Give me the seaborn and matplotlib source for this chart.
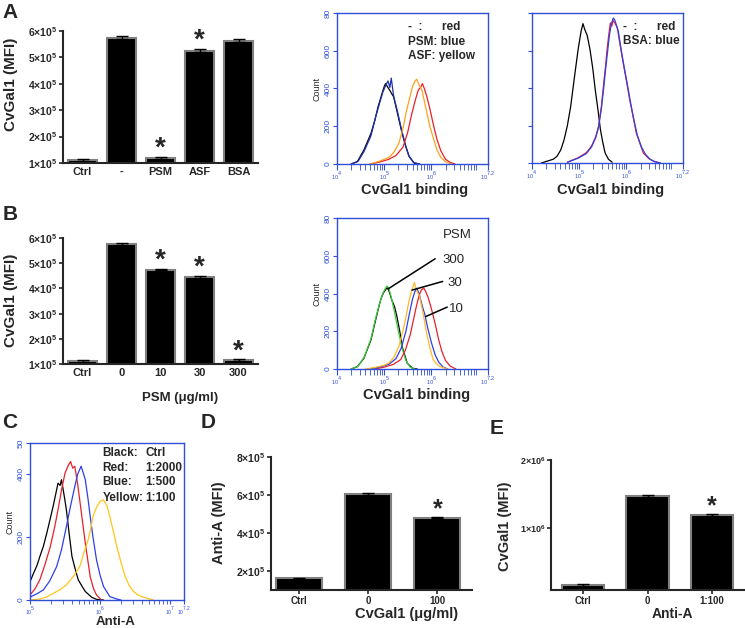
import numpy as np
import pandas as pd
import seaborn as sns
import matplotlib
matplotlib.use('Agg')
import matplotlib.pyplot as plt
from matplotlib.ticker import FixedLocator, NullFormatter

######################################## data ########################################
# panel A, bar chart
a_cats = ['Ctrl', '-', 'PSM', 'ASF', 'BSA']
a_vals = [1.12e5, 5.75e5, 1.18e5, 5.26e5, 5.63e5]
a_errs = [3e3, 7e3, 3e3, 7e3, 6e3]
a_star = [2, 3]

# panel B, bar chart
b_cats = ['Ctrl', '0', '10', '30', '300']
b_vals = [1.12e5, 5.77e5, 4.75e5, 4.45e5, 1.15e5]
b_errs = [3e3, 3e3, 3e3, 3e3, 3e3]
b_star = [2, 3, 4]

# panel D, bar chart
d_cats = ['Ctrl', '0', '100']
d_vals = [1.62e5, 6.05e5, 4.80e5]
d_errs = [3e3, 3e3, 3e3]
d_star = [2]

# panel E, bar chart
e_cats = ['Ctrl', '0', '1:100']
e_vals = [1.75e5, 1.47e6, 1.19e6]
e_errs = [1.2e4, 1.5e4, 1.5e4]
e_star = [2]

# histograms: x = log10(fluorescence), y = count
a1_ctrl_x = [4.30, 4.43, 4.57, 4.72, 4.80, 4.87, 4.95, 5.00, 5.03, 5.08, 5.12, 5.16, 5.20, 5.28, 5.38, 5.46, 5.53, 5.64, 5.75]
a1_ctrl_y = [0, 12, 74, 162, 230, 303, 370, 410, 426, 405, 390, 372, 356, 270, 162, 90, 39, 4, 0]
a1_psm_x = [4.30, 4.45, 4.58, 4.72, 4.82, 4.90, 4.97, 5.03, 5.08, 5.12, 5.15, 5.20, 5.28, 5.36, 5.44, 5.52, 5.62, 5.75]
a1_psm_y = [0, 15, 70, 150, 250, 320, 380, 415, 440, 405, 455, 360, 280, 190, 110, 45, 8, 0]
a1_neg_x = [4.70, 4.90, 5.10, 5.25, 5.40, 5.50, 5.58, 5.65, 5.72, 5.78, 5.81, 5.85, 5.90, 5.97, 6.05, 6.12, 6.20, 6.30, 6.40, 6.50]
a1_neg_y = [0, 10, 25, 45, 90, 170, 260, 330, 390, 410, 426, 400, 360, 290, 200, 130, 70, 25, 8, 0]
a1_asf_x = [4.70, 4.90, 5.10, 5.20, 5.31, 5.40, 5.46, 5.53, 5.60, 5.65, 5.69, 5.74, 5.80, 5.88, 5.97, 6.05, 6.12, 6.20, 6.30, 6.42]
a1_asf_y = [0, 15, 35, 60, 109, 190, 268, 340, 409, 440, 449, 420, 391, 300, 197, 130, 74, 35, 12, 0]

a2_ctrl_x = [4.20, 4.31, 4.45, 4.53, 4.61, 4.68, 4.75, 4.82, 4.88, 4.93, 4.98, 5.04, 5.08, 5.12, 5.17, 5.23, 5.29, 5.34, 5.40, 5.45, 5.50, 5.55, 5.62, 5.70]
a2_ctrl_y = [0, 9, 20, 36, 70, 124, 200, 302, 420, 516, 610, 702, 743, 711, 680, 604, 500, 391, 280, 178, 110, 53, 20, 4]
a2_neg_x = [4.75, 4.97, 5.15, 5.26, 5.35, 5.41, 5.47, 5.52, 5.56, 5.59, 5.63, 5.66, 5.69, 5.72, 5.76, 5.81, 5.86, 5.92, 6.00, 6.07, 6.14, 6.21, 6.30, 6.36, 6.47, 6.58, 6.72]
a2_neg_y = [4, 27, 55, 89, 140, 196, 300, 427, 520, 604, 690, 747, 730, 760, 745, 720, 640, 551, 440, 338, 250, 160, 95, 53, 25, 9, 0]
a2_bsa_x = [4.75, 4.97, 5.15, 5.26, 5.35, 5.41, 5.47, 5.52, 5.56, 5.60, 5.64, 5.68, 5.72, 5.75, 5.79, 5.83, 5.88, 5.94, 6.02, 6.09, 6.16, 6.23, 6.32, 6.40, 6.50, 6.60, 6.72]
a2_bsa_y = [4, 25, 50, 85, 135, 190, 290, 400, 500, 590, 680, 740, 773, 765, 735, 700, 620, 530, 420, 320, 230, 150, 85, 48, 20, 7, 0]

b_ctrl_x = [4.30, 4.43, 4.57, 4.72, 4.80, 4.87, 4.93, 4.98, 5.03, 5.07, 5.12, 5.16, 5.22, 5.27, 5.33, 5.38, 5.44, 5.49, 5.60, 5.70]
b_ctrl_y = [0, 12, 57, 154, 240, 313, 370, 402, 420, 434, 400, 366, 330, 278, 200, 119, 70, 30, 4, 0]
b_300_x = [4.30, 4.45, 4.58, 4.72, 4.82, 4.90, 4.97, 5.02, 5.06, 5.10, 5.15, 5.22, 5.30, 5.38, 5.46, 5.55, 5.65]
b_300_y = [0, 15, 65, 160, 270, 345, 400, 425, 440, 425, 380, 300, 200, 110, 45, 10, 0]
b_30_x = [4.60, 4.80, 5.00, 5.09, 5.20, 5.31, 5.42, 5.48, 5.53, 5.59, 5.64, 5.68, 5.75, 5.82, 5.90, 5.97, 6.04, 6.12, 6.19, 6.34]
b_30_y = [0, 8, 20, 30, 60, 119, 225, 300, 366, 420, 458, 420, 384, 300, 189, 110, 48, 25, 12, 0]
b_10_x = [4.70, 4.90, 5.10, 5.25, 5.36, 5.46, 5.54, 5.60, 5.65, 5.69, 5.74, 5.80, 5.86, 5.92, 6.00, 6.08, 6.16, 6.25, 6.35]
b_10_y = [0, 10, 25, 55, 110, 200, 300, 370, 410, 428, 400, 340, 290, 220, 140, 75, 35, 10, 0]
b_0_x = [4.80, 5.00, 5.20, 5.35, 5.45, 5.55, 5.62, 5.68, 5.74, 5.79, 5.84, 5.88, 5.93, 6.00, 6.08, 6.15, 6.22, 6.30, 6.40, 6.52]
b_0_y = [0, 10, 25, 50, 100, 180, 260, 330, 390, 420, 428, 410, 380, 320, 240, 160, 95, 45, 15, 0]

c_ctrl_x = [5.00, 5.05, 5.10, 5.14, 5.19, 5.24, 5.29, 5.33, 5.37, 5.40, 5.43, 5.45, 5.49, 5.52, 5.56, 5.60, 5.65, 5.69, 5.74, 5.79, 5.88, 5.95, 6.05]
c_ctrl_y = [58, 85, 110, 138, 170, 213, 260, 298, 340, 372, 365, 383, 330, 287, 210, 138, 95, 64, 45, 27, 9, 2, 0]
c_2000_x = [5.00, 5.07, 5.14, 5.21, 5.29, 5.35, 5.40, 5.45, 5.50, 5.55, 5.58, 5.61, 5.64, 5.68, 5.71, 5.75, 5.79, 5.83, 5.86, 5.91, 5.95, 6.02]
c_2000_y = [16, 35, 64, 110, 170, 230, 287, 350, 404, 430, 441, 420, 426, 370, 319, 250, 181, 120, 74, 35, 16, 0]
c_500_x = [5.00, 5.10, 5.19, 5.28, 5.38, 5.45, 5.52, 5.58, 5.64, 5.68, 5.73, 5.76, 5.79, 5.83, 5.86, 5.90, 5.95, 6.00, 6.05, 6.14, 6.24, 6.30]
c_500_y = [9, 20, 32, 60, 106, 160, 234, 300, 362, 400, 426, 405, 383, 320, 266, 200, 128, 80, 43, 11, 3, 0]
c_100_x = [5.00, 5.14, 5.24, 5.33, 5.43, 5.52, 5.62, 5.71, 5.77, 5.83, 5.87, 5.90, 5.95, 6.00, 6.05, 6.10, 6.14, 6.19, 6.24, 6.30, 6.36, 6.42, 6.48, 6.55, 6.62, 6.76]
c_100_y = [0, 3, 10, 21, 33, 48, 75, 106, 150, 191, 230, 266, 295, 314, 319, 300, 266, 220, 170, 120, 74, 45, 27, 15, 9, 0]

######################################## style ########################################
sns.set_style('ticks')
plt.rcParams['font.family'] = ['Liberation Sans', 'DejaVu Sans']
plt.rcParams['mathtext.fontset'] = 'custom'
plt.rcParams['mathtext.rm'] = 'Liberation Sans'
plt.rcParams['mathtext.it'] = 'Liberation Sans:italic'
plt.rcParams['mathtext.bf'] = 'Liberation Sans:bold'

W, H = 745, 628
BLUE = '#2f4fd8'

fig = plt.figure(figsize=(W / 100, H / 100), dpi=100)


def px_axes(l, t, r, b):
	return fig.add_axes([l / W, 1 - b / H, (r - l) / W, (b - t) / H])


def sci(v):
	e = int(np.floor(np.log10(v)))
	return r'$\mathbf{%d{\times}10^{%d}}$' % (round(v / 10 ** e), e)


def bar_panel(ax, cats, vals, errs, stars, ylim, yticks, width, xlim, tfs, xfs, xticks_on, sfs):
	sns.barplot(x=cats, y=vals, order=cats, color='black', saturation=1, edgecolor='#808080',
		linewidth=1.5, width=width, errorbar=None, ax=ax)
	ax.errorbar(np.arange(len(cats)), vals, yerr=errs, fmt='none', ecolor='black', elinewidth=1, capsize=4)
	for i in stars:
		ax.annotate('*', (i, vals[i] + errs[i]), xytext=(0, 6), textcoords='offset points',
			ha='center', va='center', fontsize=sfs, fontweight='bold')
	ax.set_ylim(*ylim)
	ax.set_xlim(*xlim)
	ax.set_yticks(yticks)
	ax.set_yticklabels([sci(v) for v in yticks], fontsize=tfs)
	for t in ax.get_xticklabels():
		t.set_fontsize(xfs)
		t.set_fontweight('bold')
	ax.tick_params(axis='y', length=3, width=1.2, pad=1)
	ax.tick_params(axis='x', length=3 if xticks_on else 0, width=1.2, pad=1 if xticks_on else 3)
	ax.set_xlabel('')
	ax.set_ylabel('')
	for s in ['top', 'right']:
		ax.spines[s].set_visible(False)
	for s in ['left', 'bottom']:
		ax.spines[s].set_linewidth(1.5)


def hist_panel(ax, curves, xmin, xmax, ymax, yticks, ylabels, xticks, xlabels, count=True, xfs=5.5, tl=4):
	for x, y, c in curves:
		sns.lineplot(x=x, y=y, color=c, linewidth=0.9, sort=False, ax=ax)
	ax.set_xlim(xmin, xmax)
	ax.set_ylim(0, ymax)
	minors = [np.log10(k * 10 ** d) for d in range(int(xmin), int(xmax) + 1) for k in range(2, 10)]
	minors = [m for m in minors if xmin < m < xmax]
	ax.xaxis.set_minor_locator(FixedLocator(minors))
	ax.xaxis.set_minor_formatter(NullFormatter())
	ax.set_xticks(xticks)
	ax.set_xticklabels(xlabels, fontsize=xfs, color=BLUE)
	ax.set_yticks(yticks)
	ax.set_yticklabels(ylabels, fontsize=6, color=BLUE, rotation=90, va='center')
	ax.tick_params(axis='x', which='major', length=tl, color=BLUE, pad=0.3)
	ax.tick_params(axis='x', which='minor', length=tl, color=BLUE)
	ax.tick_params(axis='y', length=3, color=BLUE, pad=1)
	for s in ax.spines.values():
		s.set_color(BLUE)
		s.set_linewidth(1.0)
	ax.set_xlabel('')
	ax.set_ylabel('Count' if count else '', fontsize=6.5, labelpad=2)


######################################## A ########################################
ax = px_axes(63, 31, 258, 163)
bar_panel(ax, a_cats, a_vals, a_errs, a_star, (1e5, 6e5), [1e5, 2e5, 3e5, 4e5, 5e5, 6e5], 0.72,
	(-0.5, 4.5), 7.5, 8, False, 20)

hx = [4, 5, 6, 7.2]
hxl = ['$_{10}{}^{4}$', '$_{10}{}^{5}$', '$_{10}{}^{6}$', '$_{10}{}^{7.2}$']
hy = [0, 200, 400, 600, 800]
hyl = ['0', '200', '400', '600', '80']

ax = px_axes(337, 13, 488, 164)
hist_panel(ax, [(a1_ctrl_x, a1_ctrl_y, 'black'), (a1_psm_x, a1_psm_y, '#1f2fb0'),
	(a1_neg_x, a1_neg_y, '#e8202a'), (a1_asf_x, a1_asf_y, '#ffa21a')],
	4, 7.2, 800, hy, hyl, hx, hxl)
for fy, s in [(0.905, '-  :      red'), (0.81, 'PSM: blue'), (0.715, 'ASF: yellow')]:
	ax.text(0.47, fy, s, transform=ax.transAxes, fontsize=8.5, fontweight='bold', va='center')

ax = px_axes(532, 13, 683, 163)
hist_panel(ax, [(a2_ctrl_x, a2_ctrl_y, 'black'), (a2_neg_x, a2_neg_y, '#e8202a'),
	(a2_bsa_x, a2_bsa_y, '#2f3fe8')],
	4, 7.2, 800, hy, ['', '', '', '', ''], hx, hxl, count=False)
for fy, s in [(0.905, '-  :      red'), (0.81, 'BSA: blue')]:
	ax.text(0.60, fy, s, transform=ax.transAxes, fontsize=8.5, fontweight='bold', va='center')

######################################## B ########################################
ax = px_axes(63, 238, 258, 364)
bar_panel(ax, b_cats, b_vals, b_errs, b_star, (1e5, 6e5), [1e5, 2e5, 3e5, 4e5, 5e5, 6e5], 0.72,
	(-0.5, 4.5), 7.5, 8, False, 20)

ax = px_axes(337, 218, 488, 369)
hist_panel(ax, [(b_ctrl_x, b_ctrl_y, 'black'), (b_300_x, b_300_y, '#3ccc3c'),
	(b_0_x, b_0_y, '#e8202a'), (b_10_x, b_10_y, '#2f3fe8'), (b_30_x, b_30_y, '#ffbb22')],
	4, 7.2, 800, hy, hyl, hx, hxl)
ax.text(0.70, 0.89, 'PSM', transform=ax.transAxes, fontsize=9.5, va='center')
ax.text(0.70, 0.72, '300', transform=ax.transAxes, fontsize=9.5, va='center')
ax.text(0.73, 0.57, '30', transform=ax.transAxes, fontsize=9.5, va='center')
ax.text(0.74, 0.40, '10', transform=ax.transAxes, fontsize=9.5, va='center')
arr = dict(arrowstyle='-', color='black', lw=1.1, shrinkA=0, shrinkB=0)
ax.annotate('', xy=(5.08, 424), xytext=(0.65, 0.73), textcoords='axes fraction', arrowprops=arr)
ax.annotate('', xy=(5.59, 418), xytext=(0.70, 0.58), textcoords='axes fraction', arrowprops=arr)
ax.annotate('', xy=(5.88, 278), xytext=(0.73, 0.41), textcoords='axes fraction', arrowprops=arr)

######################################## C ########################################
ax = px_axes(30, 443, 184, 600)
hist_panel(ax, [(c_ctrl_x, c_ctrl_y, 'black'), (c_2000_x, c_2000_y, '#e8202a'),
	(c_500_x, c_500_y, '#2f3fe8'), (c_100_x, c_100_y, '#ffc51a')],
	5, 7.2, 500, [0, 200, 400, 500], ['0', '200', '400', '50'],
	[5, 6, 7, 7.2], ['$_{10}{}^{5}$', '$_{10}{}^{6}$', '$_{10}{}^{7}$', '$_{10}{}^{7.2}$'], xfs=5, tl=3)
for fy, a, b in [(0.935, 'Black:', 'Ctrl'), (0.84, 'Red:', '1:2000'), (0.75, 'Blue:', '1:500'), (0.65, 'Yellow:', '1:100')]:
	ax.text(0.47, fy, a, transform=ax.transAxes, fontsize=8.5, fontweight='bold', va='center')
	ax.text(0.75, fy, b, transform=ax.transAxes, fontsize=8.5, fontweight='bold', va='center')

######################################## D ########################################
ax = px_axes(271, 457, 472, 590)
bar_panel(ax, d_cats, d_vals, d_errs, d_star, (1e5, 8e5), [2e5, 4e5, 6e5, 8e5], 0.66,
	(-0.4, 2.5), 7.5, 7, True, 18)

######################################## E ########################################
ax = px_axes(551, 460, 745, 590)
bar_panel(ax, e_cats, e_vals, e_errs, e_star, (1e5, 2e6), [1e6, 2e6], 0.66,
	(-0.5, 2.51), 6.5, 7, True, 18)

######################################## text ########################################
for x, y, s in [(10, 12, 'A'), (10, 215, 'B'), (10, 422, 'C'), (208, 422, 'D'), (497, 428, 'E')]:
	fig.text(x / W, 1 - y / H, s, fontsize=15, fontweight='bold', ha='center', va='center')
for x, y, s, fs in [(11, 84, 'CvGal1 (MFI)', 11), (11, 300, 'CvGal1 (MFI)', 11),
		(219, 523, 'Anti-A (MFI)', 10.5), (505, 526, 'CvGal1 (MFI)', 10.5)]:
	fig.text(x / W, 1 - y / H, s, fontsize=fs, fontweight='bold', ha='center', va='center', rotation=90)
for x, y, s, fs in [(415, 190, 'CvGal1 binding', 10.5), (611, 190, 'CvGal1 binding', 10.5),
		(417, 395, 'CvGal1 binding', 10.5), (180, 398, 'PSM (\u03bcg/ml)', 9.5),
		(407, 614, 'CvGal1 (\u03bcg/ml)', 10.5), (672, 614, 'Anti-A', 10), (116, 622, 'Anti-A', 9.5)]:
	fig.text(x / W, 1 - y / H, s, fontsize=fs, fontweight='bold', ha='center', va='center')

fig.savefig('out.png', dpi=100)
